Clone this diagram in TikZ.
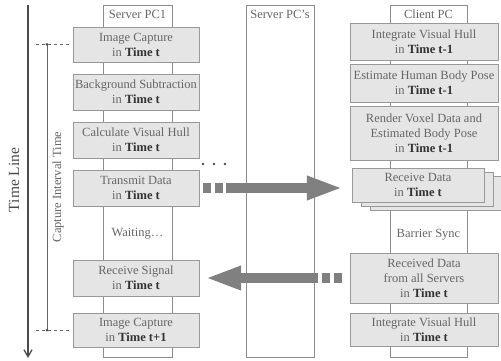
\documentclass[tikz,border=0pt]{standalone}
\usepackage{fontspec}
\setmainfont{Liberation Serif}
\usetikzlibrary{arrows.meta,shadows}
\newcommand{\tm}[1]{\textbf{\color{black!80}Time #1}}

\begin{document}
\begin{tikzpicture}[x=1pt,y=-1pt,
    txt/.style={font=\fontsize{12.5}{15}\selectfont, text=black!60},
    box/.style={txt, draw=black!40, fill=black!10, align=center, inner sep=0pt, minimum width=#1},
    col/.style={draw=black!45},
    fat/.style={draw=black!50, line width=10pt, -{Triangle[length=36pt,width=22pt]}},
    fatdash/.style={draw=black!50, line width=10pt, dash pattern=on 8pt off 4pt}]
  \useasboundingbox (0,0) rectangle (501,361);

  % columns
  \draw[col] (103,5) rectangle (172,357);
  \draw[col] (246,5) rectangle (314,357);
  \draw[col] (390,5) rectangle (467,357);
  \node[txt] (pc1) at (137.5,14) {Server PC1};
  \node[txt] (pcs) at (280,14) {Server PC's};
  \node[txt] (cpc) at (428.5,14) {Client PC};

  % server side
  \node[box=126, minimum height=35] (sv1) at (136,44.5) {Image Capture\\in \tm{t}};
  \node[box=126, minimum height=36] (sv2) at (136,92) {Background Subtraction\\in \tm{t}};
  \node[box=126, minimum height=36] (sv3) at (136,140) {Calculate Visual Hull\\in \tm{t}};
  \node[box=126, minimum height=36] (tx) at (136,188) {Transmit Data\\in \tm{t}};
  \node[txt] (wt) at (137.5,234) {Waiting…};
  \node[box=126, minimum height=36] (rs) at (136,278) {Receive Signal\\in \tm{t}};
  \node[box=126, minimum height=34] (sv6) at (136,330) {Image Capture\\in \tm{t+1}};

  % client side
  \node[box=148, minimum height=37] (cl1) at (424,41.5) {Integrate Visual Hull\\in \tm{t-1}};
  \node[box=148, minimum height=38] (cl2) at (424,83) {Estimate Human Body Pose\\in \tm{t-1}};
  \node[box=148, minimum height=54] (cl3) at (424,133) {Render Voxel Data and\\Estimated Body Pose\\in \tm{t-1}};
  \node[box=132, minimum height=34,
        double copy shadow={shadow xshift=9pt, shadow yshift=-4pt}] (rx) at (418,185) {Receive Data\\in \tm{t}};
  \node[txt] (bs) at (428.5,235) {Barrier Sync};
  \node[box=148, minimum height=50] (rd) at (424,278) {Received Data\\from all Servers\\in \tm{t}};
  \node[box=148, minimum height=33] (cl6) at (424,329.5) {Integrate Visual Hull\\in \tm{t}};

  % transfers
  \foreach \x in {203,214,225}{
    \fill[black!70] (\x,164) circle [radius=1.4];
  }
  \draw[fatdash] ([xshift=4pt]tx.east) -- ([xshift=24pt]tx.east);
  \draw[fat] ([xshift=27pt]tx.east) -- ([xshift=-9pt]rx.west |- tx.east);
  \draw[fatdash] ([xshift=-8pt]rd.west) -- ([xshift=-28pt]rd.west);
  \draw[fat] ([xshift=-32pt]rd.west) -- ([xshift=6pt]rs.east);

  % time line
  \coordinate (t0) at (28,5);
  \coordinate (t1) at (28,358);
  \draw[line width=1.3pt, black!70, -{Straight Barb[length=7pt,width=8pt]}] (t0) -- (t1);
  \node[rotate=90, font=\fontsize{15.5}{18}\selectfont, text=black!70] (tl) at (14,180) {Time Line};

  % capture interval
  \coordinate (c0) at (47,44.5);
  \coordinate (c1) at (47,330);
  \draw[black!60] (c0) -- (c1);
  \fill[black!70] (c0) circle [radius=1.5];
  \fill[black!70] (c1) circle [radius=1.5];
  \draw[dashed, black!60] ([xshift=-11pt]c0) -- ([xshift=-3pt]sv1.west);
  \draw[dashed, black!60] ([xshift=-11pt]c1) -- ([xshift=-3pt]sv6.west);
  \node[txt, rotate=90] (ci) at (58,187) {Capture Interval Time};
\end{tikzpicture}
\end{document}
